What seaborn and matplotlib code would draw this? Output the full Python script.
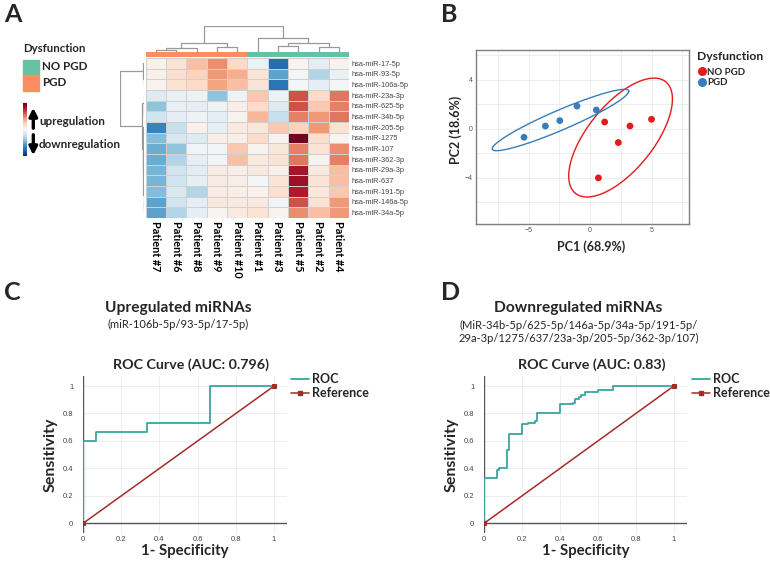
import numpy as np
import pandas as pd
import matplotlib.pyplot as plt
from matplotlib.colors import ListedColormap
from matplotlib.lines import Line2D
from matplotlib.patches import Rectangle
import seaborn as sns

sns.set_theme(style="white")
plt.rcParams["font.family"] = ["Lato", "DejaVu Sans"]

W, H = 770, 565

# ---------------- data ----------------
patients = ["Patient #7", "Patient #6", "Patient #8", "Patient #9", "Patient #10",
            "Patient #1", "Patient #3", "Patient #5", "Patient #2", "Patient #4"]
patient_group = [0, 0, 0, 0, 0, 1, 1, 1, 1, 1]   # 0 = PGD, 1 = NO PGD
mirnas = ["hsa-miR-17-5p", "hsa-miR-93-5p", "hsa-miR-106a-5p", "hsa-miR-23a-3p",
          "hsa-miR-625-5p", "hsa-miR-34b-5p", "hsa-miR-205-5p", "hsa-miR-1275",
          "hsa-miR-107", "hsa-miR-362-3p", "hsa-miR-29a-3p", "hsa-miR-637",
          "hsa-miR-191-5p", "hsa-miR-146a-5p", "hsa-miR-34a-5p"]
expr = [
    [0.15, 0.40, 0.90, 1.40, 0.60, -0.20, -2.30, 0.05, -0.30, 0.10],
    [0.15, 0.50, 0.70, 1.30, 1.10, 0.40, -1.60, -0.05, -0.90, -0.20],
    [0.10, 0.45, 0.60, 1.20, 0.90, 0.40, -2.20, -0.05, -0.30, -0.05],
    [-0.40, -0.20, -0.15, -1.20, -0.15, 0.80, -0.15, 1.90, 0.60, 1.60],
    [-1.20, -0.25, -0.30, -0.15, 0.20, 0.60, -0.40, 1.90, 0.80, 1.50],
    [-0.60, -0.30, -0.15, -0.30, 0.10, 1.00, -0.70, 1.50, 1.30, 1.60],
    [-2.00, -0.70, 0.15, -0.30, 0.30, 0.35, 0.80, 0.70, 1.30, 0.45],
    [-1.30, -0.50, -0.40, 0.20, 0.20, 0.60, 0.10, 2.90, 0.50, 0.05],
    [-1.50, -1.20, -0.10, -0.10, 0.80, 0.10, 0.35, 1.50, 0.40, 1.40],
    [-1.50, -0.90, -0.30, -0.10, 0.90, 0.30, 0.40, 1.60, 0.10, 1.50],
    [-1.40, -0.60, -0.35, 0.25, 0.20, 0.30, 0.15, 2.50, 0.30, 0.90],
    [-1.40, -0.60, -0.30, 0.25, 0.20, -0.05, 0.40, 2.60, 0.40, 0.90],
    [-1.30, -0.50, -0.90, 0.25, 0.20, 0.15, 0.50, 2.40, 0.35, 0.80],
    [-1.60, -0.60, -0.30, 0.35, 0.30, 0.30, -0.10, 1.90, 0.45, 1.30],
    [-1.60, -0.90, -0.30, 0.05, 0.30, 0.40, 0.10, 1.40, 0.90, 1.30],
]
# dendrograms: (height, left, right), leaves are column / row indices
col_tree = (1.0, (0.34, (0.14, (0.04, 0, 1), 2), (0.18, 3, 4)),
            (0.54, 5, (0.34, (0.23, 6, 7), (0.18, 8, 9))))
row_tree = (1.0, (0.05, 0, (0.03, 1, 2)),
            (0.1, (0.04, 3, (0.02, 4, 5)),
             (0.08, 6, (0.06, (0.03, 7, (0.02, 8, 9)),
                        (0.04, (0.02, (0.01, 10, 11), 12), (0.02, 13, 14))))))

# PCA scores
pc1_nopgd = [1.19, 3.25, 5.00, 2.30, 0.68]
pc2_nopgd = [0.54, 0.21, 0.76, -1.14, -4.03]
pc1_pgd = [-5.37, -3.63, -2.46, -1.06, 0.51]
pc2_pgd = [-0.71, 0.21, 0.65, 1.84, 1.52]

# ROC curves (corner points)
up_fpr = [0, 0, 0.067, 0.067, 0.333, 0.333, 0.667, 0.667, 1.0]
up_tpr = [0, 0.6, 0.6, 0.667, 0.667, 0.733, 0.733, 1.0, 1.0]
down_fpr = [0, 0, 0.067, 0.067, 0.08, 0.08, 0.12, 0.12, 0.133, 0.133, 0.2, 0.2,
            0.233, 0.233, 0.267, 0.267, 0.28, 0.28, 0.4, 0.4, 0.467, 0.467,
            0.48, 0.48, 0.5, 0.5, 0.513, 0.513, 0.533, 0.533, 0.6, 0.6, 0.68, 0.68, 1.0]
down_tpr = [0, 0.333, 0.333, 0.386, 0.386, 0.4, 0.4, 0.533, 0.533, 0.653, 0.653, 0.72,
            0.72, 0.733, 0.733, 0.747, 0.747, 0.8, 0.8, 0.867, 0.867, 0.88,
            0.88, 0.907, 0.907, 0.92, 0.92, 0.933, 0.933, 0.96, 0.96, 0.973, 0.973, 1.0, 1.0]
ref_x = [0, 1]
ref_y = [0, 1]

GREEN, ORANGE = "#66C2A5", "#FC8D62"
RED, BLUE = "#E41A1C", "#377EB8"
TEAL, DARKRED = "#3aa6a0", "#a52a2a"


def box(x0, y0, x1, y1):
    # pixel box (origin top-left) -> figure rect
    return [x0 / W, 1 - y1 / H, (x1 - x0) / W, (y1 - y0) / H]


def fx(x):
    return x / W


def fy(y):
    return 1 - y / H


def dendro(node, pos):
    if isinstance(node, int):
        return pos[node], 0.0, []
    h, a, b = node
    pa, ha, sa = dendro(a, pos)
    pb, hb, sb = dendro(b, pos)
    seg = [(pa, ha), (pa, h), (pb, h), (pb, hb)]
    return (pa + pb) / 2, h, sa + sb + [seg]


fig = plt.figure(figsize=(W / 100, H / 100), dpi=100)
fig.patch.set_facecolor("white")

# ---------------- A: heatmap ----------------
df_hm = pd.DataFrame(expr, index=mirnas, columns=patients)
ax_hm = fig.add_axes(box(145.7, 58, 349, 218))
sns.heatmap(df_hm, ax=ax_hm, cmap="RdBu_r", vmin=-3, vmax=3, center=0,
            linewidths=0.6, linecolor="#d0d0d0", cbar=False)
ax_hm.yaxis.tick_right()
ax_hm.set_yticks(np.arange(len(mirnas)) + 0.5)
ax_hm.set_yticklabels(mirnas, rotation=0, fontsize=5.3, color="#444444",
                      family=["Liberation Sans"])
ax_hm.set_xticks(np.arange(len(patients)) + 0.5)
ax_hm.set_xticklabels(patients, rotation=270, fontsize=7.8, fontweight="bold",
                      color="black")
ax_hm.tick_params(axis="both", length=0, pad=2)
ax_hm.set_xlabel("")
ax_hm.set_ylabel("")

ax_ann = fig.add_axes(box(145.7, 52, 349, 57))
sns.heatmap(np.array([patient_group]), ax=ax_ann, cmap=ListedColormap([ORANGE, GREEN]),
            cbar=False, xticklabels=False, yticklabels=False)

ax_cd = fig.add_axes(box(145.7, 26, 349, 51.5))
_, _, segs = dendro(col_tree, {i: i + 0.5 for i in range(len(patients))})
for s in segs:
    xs, ys = zip(*s)
    ax_cd.plot(xs, ys, color="#9a9a9a", lw=0.9)
ax_cd.set_xlim(0, len(patients))
ax_cd.set_ylim(0, 1.0)
ax_cd.axis("off")

ax_rd = fig.add_axes(box(120, 58, 144.5, 218))
_, _, segs = dendro(row_tree, {i: i + 0.5 for i in range(len(mirnas))})
for s in segs:
    ys, xs = zip(*s)
    ax_rd.plot(xs, ys, color="#9a9a9a", lw=0.9)
ax_rd.set_ylim(len(mirnas), 0)
ax_rd.set_xlim(1.0, 0)
ax_rd.axis("off")

# A legend
fig.text(fx(23), fy(49), "Dysfunction", fontsize=8.2, fontweight="bold", va="center")
fig.add_artist(Rectangle((fx(23.3), fy(75)), 15.7 / W, 15 / H, color=GREEN,
                         transform=fig.transFigure))
fig.add_artist(Rectangle((fx(23.3), fy(90.7)), 15.7 / W, 15.7 / H, color=ORANGE,
                         transform=fig.transFigure))
fig.text(fx(42.5), fy(67), "NO PGD", fontsize=8.4, fontweight="bold", va="center")
fig.text(fx(42.5), fy(82), "PGD", fontsize=8.4, fontweight="bold", va="center")
ax_grad = fig.add_axes(box(23.3, 103, 26.7, 156))
ax_grad.imshow(np.linspace(1, -1, 100)[:, None], cmap="RdBu_r", aspect="auto")
ax_grad.axis("off")
ax_hm.annotate("", xy=(fx(33.3), fy(105)), xytext=(fx(33.3), fy(131)),
               xycoords="figure fraction", annotation_clip=False,
               arrowprops=dict(arrowstyle="-|>", lw=2.4, color="black", mutation_scale=12))
ax_hm.annotate("", xy=(fx(33.3), fy(158)), xytext=(fx(33.3), fy(132)),
               xycoords="figure fraction", annotation_clip=False,
               arrowprops=dict(arrowstyle="-|>", lw=2.4, color="black", mutation_scale=12))
fig.text(fx(39), fy(121), "upregulation", fontsize=8.4, fontweight="bold", va="center")
fig.text(fx(39), fy(145), "downregulation", fontsize=8.4, fontweight="bold", va="center")

# ---------------- B: PCA ----------------
pca = pd.DataFrame({
    "PC1": pc1_nopgd + pc1_pgd,
    "PC2": pc2_nopgd + pc2_pgd,
    "Dysfunction": ["NO PGD"] * len(pc1_nopgd) + ["PGD"] * len(pc1_pgd),
})
ax_b = fig.add_axes(box(475.7, 50.3, 689, 224))
pal = {"NO PGD": RED, "PGD": BLUE}
r = np.sqrt(5.991)   # 95% chi-square, 2 df
t = np.linspace(0, 2 * np.pi, 200)
for grp, sub in pca.groupby("Dysfunction"):
    pts = sub[["PC1", "PC2"]].to_numpy()
    c = pts.mean(axis=0)
    L = np.linalg.cholesky(np.cov(pts.T))
    e = c + r * (L @ np.vstack([np.cos(t), np.sin(t)])).T
    ax_b.plot(e[:, 0], e[:, 1], color=pal[grp], lw=1.0)
sns.scatterplot(data=pca, x="PC1", y="PC2", hue="Dysfunction", palette=pal, s=24,
                edgecolor="none", ax=ax_b, legend=False, zorder=3)
ax_b.set_xlim(-9.3, 8.05)
ax_b.set_ylim(-7.8, 6.4)
ax_b.set_xticks([-5, 0, 5])
ax_b.set_yticks([-4, 0, 4])
ax_b.set_xticks([-7.5, -2.5, 2.5, 7.5], minor=True)
ax_b.set_yticks([-6, -2, 2, 6], minor=True)
ax_b.grid(True, which="both", color="#ebebeb", lw=0.6)
ax_b.set_axisbelow(True)
ax_b.tick_params(axis="both", labelsize=5, colors="#555555", length=0, pad=2)
for lab in ax_b.get_xticklabels() + ax_b.get_yticklabels():
    lab.set_family(["Liberation Sans"])
for sp in ax_b.spines.values():
    sp.set_color("#7f7f7f")
    sp.set_linewidth(1.0)
ax_b.set_xlabel("PC1 (68.9%)", fontsize=9, fontweight="bold")
ax_b.set_ylabel("PC2 (18.6%)", fontsize=9, fontweight="bold")
ax_b.xaxis.set_label_coords(0.542, -0.095)
ax_b.yaxis.set_label_coords(-0.062, 0.54)
handles = [Line2D([], [], marker="o", ls="", color=pal[k], markersize=5.5) for k in pal]
leg = fig.legend(handles, list(pal), loc="upper left", bbox_to_anchor=(fx(697), fy(51)),
                 frameon=False, title="Dysfunction", fontsize=6.9, handletextpad=0.05,
                 labelspacing=0.2, borderaxespad=0, handlelength=1.0, borderpad=0)
leg.get_title().set_fontweight("bold")
leg.get_title().set_fontsize(8.7)
leg._legend_box.align = "left"
leg._legend_box.sep = 4
for txt in leg.get_texts():
    txt.set_fontweight("bold")


# ---------------- C / D: ROC ----------------
def roc_panel(rect, fpr, tpr):
    ax = fig.add_axes(rect)
    ax.set_facecolor("white")
    sns.lineplot(x=ref_x, y=ref_y, ax=ax, color=DARKRED, lw=1.1, marker="s",
                 markersize=3, markeredgecolor=DARKRED, sort=False, estimator=None,
                 zorder=3)
    sns.lineplot(x=fpr, y=tpr, ax=ax, color=TEAL, lw=1.3, sort=False, estimator=None,
                 zorder=2)
    ax.set_xlim(0, 1.068)
    ax.set_ylim(-0.07, 1.073)
    ax.set_xticks([0, 0.2, 0.4, 0.6, 0.8, 1])
    ax.set_yticks([0, 0.2, 0.4, 0.6, 0.8, 1])
    ax.set_xticklabels(["0", "0.2", "0.4", "0.6", "0.8", "1"])
    ax.set_yticklabels(["0", "0.2", "0.4", "0.6", "0.8", "1"])
    ax.grid(True, color="#eeeeee", lw=0.7)
    ax.set_axisbelow(True)
    ax.axhline(0, color="#555555", lw=1.0, zorder=1)
    ax.axvline(0, color="#555555", lw=1.0, zorder=1)
    for sp in ax.spines.values():
        sp.set_visible(False)
    ax.tick_params(axis="y", labelsize=5.5, colors="#444444", length=0, pad=7)
    ax.tick_params(axis="x", labelsize=5.5, colors="#444444", length=0, pad=2)
    for lab in ax.get_xticklabels() + ax.get_yticklabels():
        lab.set_family(["Liberation Sans"])
    ax.set_xlabel("1- Specificity", fontsize=10.8, fontweight="bold", labelpad=1)
    ax.set_ylabel("Sensitivity", fontsize=11.5, fontweight="bold", labelpad=4)
    return ax


ax_c = roc_panel(box(83, 376, 287, 533), up_fpr, up_tpr)
ax_d = roc_panel(box(484, 376, 686.7, 533), down_fpr, down_tpr)

for ax, x0 in [(ax_c, 291), (ax_d, 692)]:
    hs = [Line2D([], [], color=TEAL, lw=1.3),
          Line2D([], [], color=DARKRED, lw=1.1, marker="s", markersize=2.5)]
    lg = fig.legend(hs, ["ROC", "Reference"], loc="upper left",
                    bbox_to_anchor=(fx(x0), fy(373)), frameon=False, fontsize=9,
                    handlelength=1.4, handletextpad=0.3, labelspacing=0.15,
                    borderaxespad=0, borderpad=0)
    for txt in lg.get_texts():
        txt.set_fontweight("bold")

fig.text(fx(178), fy(308), "Upregulated miRNAs", fontsize=11.2, fontweight="bold",
         ha="center", va="center")
fig.text(fx(178), fy(324), "(miR-106b-5p/93-5p/17-5p)", fontsize=8,
         ha="center", va="center")
fig.text(fx(191), fy(365), "ROC Curve (AUC: 0.796)", fontsize=10.3, fontweight="bold",
         ha="center", va="center")

fig.text(fx(578), fy(308), "Downregulated miRNAs", fontsize=11.2, fontweight="bold",
         ha="center", va="center")
fig.text(fx(579), fy(332),
         "(MiR-34b-5p/625-5p/146a-5p/34a-5p/191-5p/\n29a-3p/1275/637/23a-3p/205-5p/362-3p/107)",
         fontsize=8, ha="center", va="center", linespacing=1.3)
fig.text(fx(592), fy(365), "ROC Curve (AUC: 0.83)", fontsize=10.3, fontweight="bold",
         ha="center", va="center")

# panel letters
for letter, x, y in [("A", 4, 14), ("B", 441, 14), ("C", 4, 292), ("D", 441, 292)]:
    fig.text(fx(x), fy(y), letter, fontsize=18, fontweight="bold", va="center")

fig.savefig("out.png", dpi=100, facecolor="white")
